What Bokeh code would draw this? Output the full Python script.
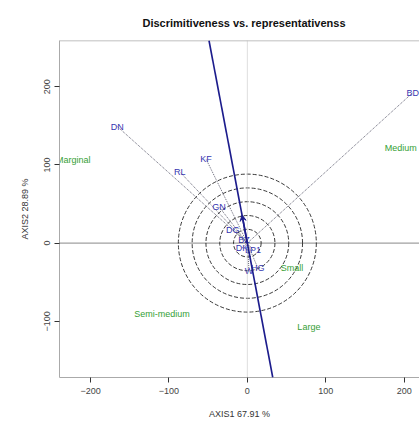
from bokeh.plotting import figure
from bokeh.models import Range1d, FixedTicker, Span, Slope, Arrow, VeeHead, ColumnDataSource
from bokeh.core.properties import value
from bokeh.embed import file_html
from bokeh.resources import INLINE

# ---- data ----
title_text = "Discrimitiveness vs. representativenss"
x_label = "AXIS1 67.91 %"
y_label = "AXIS2 28.89 %"
x_ticks = [-200, -100, 0, 100, 200]
y_ticks = [-100, 0, 100, 200]

env_names = ["DN", "RL", "KF", "GN", "DG", "BD", "BZ", "DK", "LP1", "HG", "W"]
env_x = [-165.8, -86.1, -52.8, -36.2, -18.7, 211.0, -4.2, -6.8, 7.3, 13.3, 2.2]
env_y = [149.0, 91.0, 107.7, 46.5, 17.3, 192.3, 3.8, -6.4, -9.0, -31.7, -35.9]

sector_names = ["Marginal", "Medium", "Small", "Semi-medium", "Large"]
sector_x = [-222.0, 195.6, 57.0, -109.0, 78.5]
sector_y = [106.4, 121.0, -32.0, -90.0, -107.0]

avg_env_x = -6.8
avg_env_y = 36.0
circle_radii = [17.6, 35.2, 52.8, 70.4, 88.0]

FONT = "Liberation Sans"
BLUE = "#3636b0"
GREEN = "#35a035"

Y_TOP = 259.0
p = figure(width=419, height=422,
           x_range=Range1d(-239.6, 219.6), y_range=Range1d(-171.8, Y_TOP),
           output_backend="svg", toolbar_location=None,
           min_border_left=59, min_border_right=0, min_border_top=40, min_border_bottom=45)
p.outline_line_color = None
p.xgrid.visible = False
p.ygrid.visible = False

p.title.text = title_text
p.title.text_font = FONT
p.title.text_font_size = "11px"
p.title.text_font_style = "bold"
p.title.text_color = "#111111"
p.title.align = "left"
p.title.offset = 83
p.title.standoff = 24

for ax, ticks in ((p.xaxis[0], x_ticks), (p.yaxis[0], y_ticks)):
    ax.ticker = FixedTicker(ticks=ticks)
    ax.minor_tick_line_color = None
    ax.major_tick_in = 0
    ax.major_tick_out = 5
    ax.major_tick_line_color = "#333333"
    ax.axis_line_color = "#aaaaaa"
    ax.major_label_text_font = FONT
    ax.major_label_text_font_size = "9px"
    ax.major_label_text_color = "#444444"
    ax.major_label_standoff = 5
    ax.axis_label_text_font = FONT
    ax.axis_label_text_font_size = "9px"
    ax.axis_label_text_font_style = "normal"
    ax.axis_label_text_color = "#333333"

p.xaxis[0].axis_label = x_label
p.xaxis[0].axis_label_standoff = 12
p.yaxis[0].axis_label = y_label
p.yaxis[0].axis_label_standoff = 12
p.yaxis[0].major_label_standoff = 4
p.yaxis[0].major_label_orientation = "vertical"

# top border of the box
p.add_layout(Span(location=Y_TOP, dimension="width", line_color="#aaaaaa", line_width=1.5))

# reference lines
p.add_layout(Span(location=0, dimension="height", line_color="#bbbbbb", line_dash="1 1", line_width=1))
p.add_layout(Span(location=0, dimension="width", line_color="#111111", line_dash="1 1", line_width=1))

# concentric circles
p.circle(x=[0] * len(circle_radii), y=[0] * len(circle_radii), radius=circle_radii,
         fill_color=None, line_color="#222222", line_dash="4 2", line_width=0.9)

# environment vectors
src = ColumnDataSource(dict(x0=[0] * len(env_names), y0=[0] * len(env_names),
                            x=env_x, y=env_y, name=env_names))
p.segment(x0="x0", y0="y0", x1="x", y1="y", source=src,
          line_color="#666677", line_dash="1 1", line_width=1)

# average environment axis
p.add_layout(Slope(gradient=avg_env_y / avg_env_x, y_intercept=0,
                   line_color="#1c1c8c", line_width=1.6))
p.add_layout(Arrow(end=VeeHead(size=6, line_color="#1c1c8c", fill_color="#1c1c8c"),
                   x_start=0, y_start=0, x_end=avg_env_x, y_end=avg_env_y,
                   line_color="#1c1c8c", line_width=1.6))

p.text(x="x", y="y", text="name", source=src, text_font=value(FONT),
       text_font_size="9px", text_color=BLUE, text_align="center", text_baseline="middle")

p.text(x=sector_x, y=sector_y, text=sector_names, text_font=value(FONT),
       text_font_size="9px", text_color=GREEN, text_align="center", text_baseline="middle")

open("out.html", "w").write(file_html(p, INLINE))
